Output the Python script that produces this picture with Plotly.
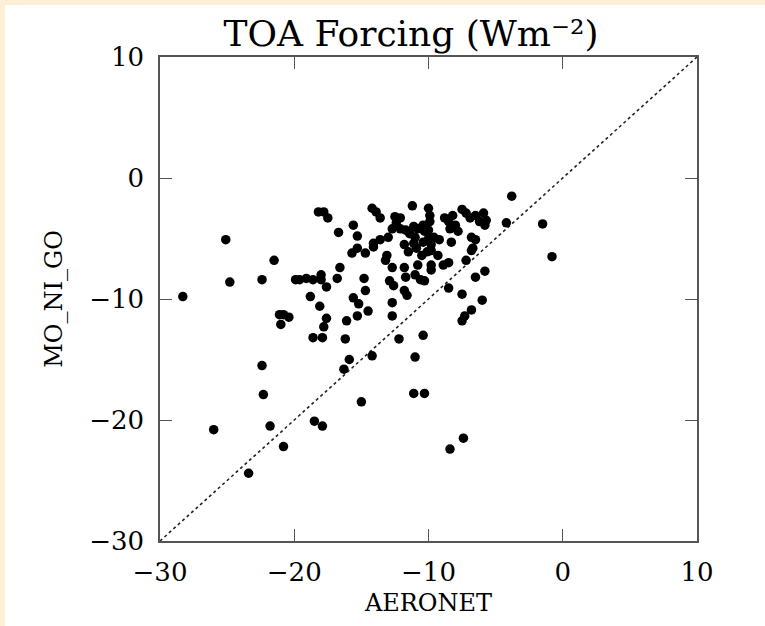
import plotly.graph_objects as go

# AERONET (x) vs MO_NI_GO (y) TOA forcing values
aeronet = [
    -25.1, -24.8, -21.5, -28.3, -22.4, -19.9, -19.6, -19.1, -18.6, -18.0,
    -18.0, -17.6, -16.7, -15.6, -15.3, -15.3, -15.7, -14.7, -18.2, -17.8,
    -17.5, -14.2, -13.9, -13.6, -16.6, -16.8, -14.8, -14.7, -15.6, -15.2,
    -14.5, -15.3, -16.1, -18.8, -18.1, -21.1, -20.8, -20.4, -21.0, -17.6,
    -17.8, -18.6, -17.9, -16.2, -22.4, -15.9, -16.3, -14.2, -12.7, -12.7,
    -12.2, -11.0, -10.4,
    -12.5, -12.1, -12.4, -12.7, -12.1, -13.0, -13.6, -14.1, -14.1, -13.1,
    -13.2, -12.7, -11.8, -12.9, -12.6, -11.7, -11.8, -11.5, -11.2, -11.7,
    -10.0, -9.9, -11.1, -10.8, -10.4, -10.3, -9.9, -10.0, -11.0, -11.4,
    -11.1, -10.9, -10.4, -10.0, -9.8, -9.6, -9.2, -9.8, -10.1, -8.8,
    -8.5, -8.2, -8.0, -8.4, -7.8, -7.5, -7.2, -6.9, -6.5, -5.9,
    -6.2, -5.8, -5.7, -8.3, -6.8, -6.5, -6.7, -6.8, -4.2, -10.5,
    -9.3, -7.2, -10.8, -9.8, -9.8, -8.9, -8.5, -11.0, -10.6, -10.3,
    -6.5, -5.8,
    -3.8, -1.5, -0.8, -8.5, -7.5, -6.0, -6.8, -7.3, -7.5, -11.8,
    -11.6,
    -22.3, -26.0, -21.8, -20.8, -23.4, -18.5, -17.9, -15.0, -11.1, -10.3,
    -8.4, -7.4,
]
mo_ni_go = [
    -5.1, -8.6, -6.8, -9.8, -8.4, -8.4, -8.4, -8.3, -8.4, -8.0,
    -8.4, -9.0, -4.5, -3.9, -4.8, -5.8, -6.2, -6.2, -2.8, -2.8,
    -3.3, -2.5, -2.8, -3.3, -7.4, -8.3, -8.3, -9.3, -9.9, -10.4,
    -11.0, -11.4, -11.8, -9.8, -10.6, -11.3, -11.3, -11.5, -12.1, -11.6,
    -12.3, -13.2, -13.2, -13.3, -15.5, -15.0, -15.8, -14.7, -10.3, -11.4,
    -13.3, -14.8, -13.0,
    -3.2, -3.3, -3.7, -4.2, -4.2, -4.9, -5.1, -5.4, -5.7, -6.4,
    -6.8, -7.4, -7.4, -8.5, -8.9, -8.2, -5.5, -6.1, -2.3, -4.3,
    -2.5, -3.1, -4.0, -4.2, -3.9, -4.4, -3.6, -4.3, -4.9, -4.6,
    -5.4, -5.8, -5.3, -5.0, -5.5, -4.9, -5.1, -6.0, -6.1, -3.3,
    -3.6, -3.1, -3.9, -4.2, -4.4, -2.6, -2.9, -3.3, -3.1, -2.9,
    -3.6, -3.9, -3.5, -5.3, -4.9, -5.1, -5.8, -6.0, -3.7, -6.4,
    -6.4, -6.8, -7.2, -7.2, -7.6, -7.2, -7.0, -8.0, -8.4, -8.5,
    -8.2, -7.7,
    -1.5, -3.8, -6.5, -9.1, -9.6, -10.1, -10.9, -11.4, -11.8, -9.3,
    -9.7,
    -17.9, -20.8, -20.5, -22.2, -24.4, -20.1, -20.5, -18.5, -17.8, -17.8,
    -22.4, -21.5,
]
one_to_one = [-30, 10]
x_ticks = [-30, -20, -10, 0, 10]
y_ticks = [-30, -20, -10, 0, 10]

W, H = 765, 626
ML, MR, MT, MB = 160, 68, 57, 85
pw, ph = W - ML - MR, H - MT - MB

fig = go.Figure()
fig.add_trace(go.Scatter(
    x=one_to_one, y=one_to_one, mode="lines",
    line=dict(color="#222222", width=1.6, dash="dot"),
    hoverinfo="skip", showlegend=False,
))
fig.add_trace(go.Scatter(
    x=aeronet, y=mo_ni_go, mode="markers",
    marker=dict(color="black", size=9.5, line=dict(width=0)),
    showlegend=False,
))

font_family = "DejaVu Serif"
axis_common = dict(
    showgrid=False, zeroline=False, showline=True, linecolor="#555555",
    linewidth=1.5, mirror="ticks", ticks="inside", ticklen=12,
    tickwidth=1.3, tickcolor="#555555",
    tickfont=dict(family=font_family, size=26, color="black"),
)


def px_x(p):
    return (p - ML) / pw


def px_y(p):
    return 1 - (p - MT) / ph


cream = "#FCEFD6"
shapes = [
    dict(type="rect", xref="paper", yref="paper", x0=px_x(0), x1=px_x(5),
         y0=px_y(H), y1=px_y(0), fillcolor=cream, line=dict(width=0), layer="below"),
    dict(type="rect", xref="paper", yref="paper", x0=px_x(0), x1=px_x(W),
         y0=px_y(5), y1=px_y(0), fillcolor=cream, line=dict(width=0), layer="below"),
]

fig.update_layout(
    width=W, height=H,
    margin=dict(l=ML, r=MR, t=MT, b=MB, autoexpand=False),
    paper_bgcolor="white", plot_bgcolor="white",
    shapes=shapes,
    title=dict(text="TOA Forcing (Wm⁻²)", x=px_x(411), xanchor="center",
               xref="paper", y=1 - 33 / H, yanchor="middle",
               font=dict(family=font_family, size=36, color="black")),
    xaxis=dict(range=[-30, 10], tickvals=x_ticks, ticklabelstandoff=7,
               title=dict(text="AERONET", standoff=8,
                          font=dict(family=font_family, size=24, color="black")),
               **axis_common),
    yaxis=dict(range=[-30, 10], tickvals=y_ticks, ticklabelstandoff=9,
               title=dict(text="MO_NI_GO", standoff=20,
                          font=dict(family=font_family, size=24, color="black")),
               **axis_common),
)

fig.write_html("out.html", config={"displayModeBar": False},
               post_script="document.body.style.margin='0';")
